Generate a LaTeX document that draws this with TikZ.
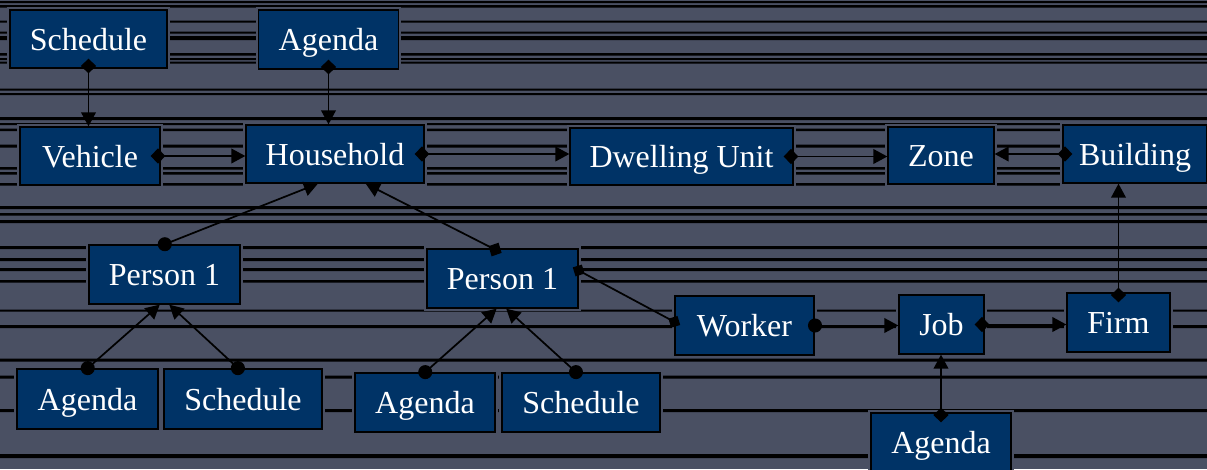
\documentclass[tikz,border=0pt]{standalone}
\usepackage{fontspec}
\setmainfont{Liberation Serif}
\usetikzlibrary{arrows.meta}
\definecolor{slate}{RGB}{74,80,99}
\definecolor{navy}{RGB}{0,51,102}
\tikzset{
  box/.style={draw=black, line width=1pt, fill=navy, text=white, inner sep=0pt,
    text height=21pt, text depth=4.5pt,
    font=\fontsize{24}{28}\selectfont, preaction={draw=slate, line width=4pt}},
  dline/.style={{Diamond[length=11pt,width=11.5pt]}-{Triangle[length=10.5pt,width=11pt]},
    line width=1.3pt, shorten <=-7.5pt},
  cline/.style={{Circle[length=10.5pt]}-{Triangle[length=10.5pt,width=11pt]},
    line width=1.3pt, shorten <=-5pt},
  ddline/.style={{Diamond[length=10pt,width=10pt]}-{Diamond[length=10pt,width=10pt]},
    line width=1.3pt, shorten <=-5pt, shorten >=-5pt}
}
\begin{document}
\begin{tikzpicture}[x=0.75pt,y=-0.75pt]
	\useasboundingbox (0,0) rectangle (1207,469);
	\clip (0,0) rectangle (1207,469);
	\fill[slate] (0,0) rectangle (1207,469);
	
	% background stripes
	\fill[black] (0,1) rectangle (1207,3) (0,5) rectangle (1207,7.5)
		(0,20.5) rectangle (1207,22.5) (0,31.5) rectangle (1207,33.5)
		(0,36) rectangle (1207,40) (0,53) rectangle (1207,55.5)
		(0,58) rectangle (1207,60) (0,61.5) rectangle (1207,63.5)
		(0,88.5) rectangle (1207,90.5) (0,93) rectangle (1207,95)
		(0,117) rectangle (1207,120) (0,123) rectangle (1207,125)
		(0,128.5) rectangle (1207,131) (0,144.5) rectangle (1207,147.5)
		(0,167) rectangle (1207,169.5) (0,172) rectangle (1207,174.5)
		(0,183) rectangle (1207,185.5) (0,206) rectangle (1207,209)
		(0,213) rectangle (1207,215.5) (0,220) rectangle (1207,223)
		(0,246) rectangle (1207,249) (0,258) rectangle (1207,261)
		(0,268) rectangle (1207,271) (0,280) rectangle (1207,282.5)
		(0,309.5) rectangle (1207,311.5) (0,325) rectangle (1207,328)
		(0,358.5) rectangle (1207,361.5) (0,375.5) rectangle (1207,378.5)
		(0,409) rectangle (1207,412) (0,454) rectangle (1207,458);
	
	% entities
	\node[box, minimum width=117.75pt, minimum height=43.5pt] (sch1) at (88.5,39) {Schedule};
	\node[box, minimum width=105pt, minimum height=44.25pt] (agd1) at (328.5,39.5) {Agenda};
	\node[box, minimum width=105pt, minimum height=43.5pt] (veh) at (90,156) {Vehicle};
	\node[box, minimum width=133.5pt, minimum height=43.5pt] (hh) at (335,154) {Household};
	\node[box, minimum width=167.25pt, minimum height=42.75pt] (du) at (681.5,156.5) {Dwelling Unit};
	\node[box, minimum width=79.5pt, minimum height=42.75pt] (zone) at (941,155.5) {Zone};
	\node[box, minimum width=108pt, minimum height=43.5pt] (bld) at (1135,154) {Building};
	\node[box, minimum width=113.25pt, minimum height=44.25pt] (p1l) at (164.5,274.5) {Person 1};
	\node[box, minimum width=113.25pt, minimum height=44.25pt] (p1m) at (502.5,278.5) {Person 1};
	\node[box, minimum width=104.25pt, minimum height=44.25pt] (wk) at (744.5,325.5) {Worker};
	\node[box, minimum width=63.75pt, minimum height=44.25pt] (job) at (941.5,324.5) {Job};
	\node[box, minimum width=77.25pt, minimum height=44.25pt] (firm) at (1118.5,322.5) {Firm};
	\node[box, minimum width=105.75pt, minimum height=45pt] (agd2) at (87.5,399) {Agenda};
	\node[box, minimum width=118.5pt, minimum height=45pt] (sch2) at (243,399) {Schedule};
	\node[box, minimum width=105pt, minimum height=44.25pt] (agd3) at (425,402.5) {Agenda};
	\node[box, minimum width=118.5pt, minimum height=44.25pt] (sch3) at (581,402.5) {Schedule};
	\node[box, minimum width=105pt, minimum height=43.5pt] (agd4) at (941,442) {Agenda};
	
	% links
	\draw[dline] (sch1.south) -- (sch1.south |- veh.north);
	\draw[dline] (agd1.south) -- (agd1.south |- hh.north);
	\draw[dline] (veh.east) -- (veh.east -| hh.west);
	\draw[dline] (hh.east) -- (hh.east -| du.west);
	\draw[dline] (du.east) -- (du.east -| zone.west);
	\draw[dline] (bld.west) -- (bld.west -| zone.east);
	\draw[dline] (firm.north) -- (firm.north |- bld.south);
	\draw[cline] (p1l.north) -- (hh.240);
	\draw[dline] (p1m.108) -- (hh.316);
	\draw[cline] (agd2.north) -- (p1l.261);
	\draw[cline] (sch2.99) -- (p1l.279);
	\draw[cline] (agd3.north) -- (p1m.259);
	\draw[cline] (sch3.99) -- (p1m.277);
	\draw[ddline] (p1m.6) -- (wk.177);
	\draw[cline] (wk.east) -- (wk.east -| job.west);
	\draw[dline] (job.east) -- (job.east -| firm.west);
	\draw[dline] (agd4.north) -- (agd4.north |- job.south);
\end{tikzpicture}
\end{document}
